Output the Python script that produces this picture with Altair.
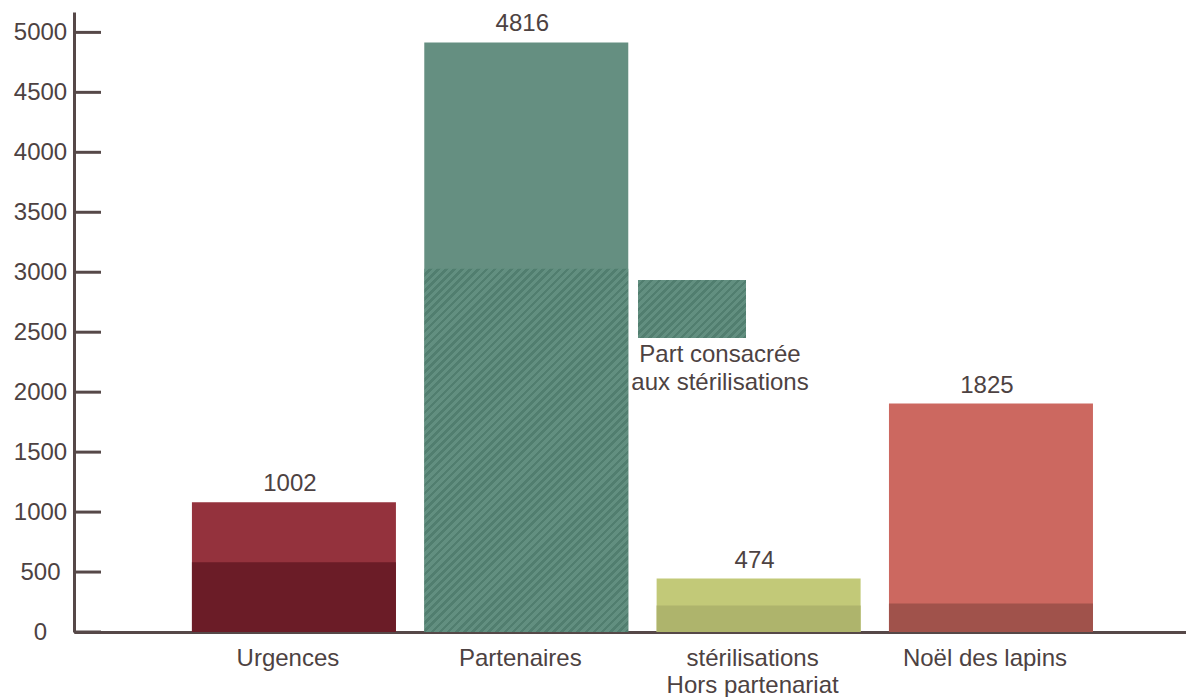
import altair as alt
import pandas as pd
import math

# ---- data ----
categories = ["Urgences", "Partenaires", "stérilisations Hors partenariat", "Noël des lapins"]
totals = [1082, 4916, 446, 1905]          # full bar heights (axis units)
parts = [582, 3030, 221, 238]             # darker / hatched lower part
value_labels = ["1002", "4816", "474", "1825"]
y_ticks = [0, 500, 1000, 1500, 2000, 2500, 3000, 3500, 4000, 4500, 5000]
legend_lines = ["Part consacrée", "aux stérilisations"]
hatched_category = "Partenaires"

# ---- styles ----
top_colors = ["#94323d", "#658f81", "#c2c978", "#cc6860"]
bottom_colors = ["#6b1c27", "#658f81", "#aeb46c", "#a0524b"]
HATCH_A = "#628f80"
HATCH_B = "#517e6f"
AXIS_COLOR = "#564848"
TEXT_COLOR = "#4d4242"
FONT = "Liberation Sans"
FS = 24
W, H = 1112, 620
Y_MAX = 5170


def hatch(w, h, period=5.7, dark=0.45):
    k = (w + h) / (w * w + h * h)
    n = max(1, int(round((w + h) / math.sqrt(2) / period)))
    stops = []
    for i in range(n):
        t0, tm, t1 = i / n, (i + 1 - dark) / n, (i + 1) / n
        stops += [
            {"offset": t0, "color": HATCH_A},
            {"offset": tm, "color": HATCH_A},
            {"offset": tm, "color": HATCH_B},
            {"offset": t1, "color": HATCH_B},
        ]
    return {"gradient": "linear", "x1": 0, "y1": 0, "x2": k * w, "y2": k * h, "stops": stops}


df = pd.DataFrame({"cat": categories, "total": totals, "part": parts, "label": value_labels})
base = alt.Chart(df)

x_axis = alt.Axis(
    title=None, domain=True, domainColor=AXIS_COLOR, domainWidth=3,
    ticks=False, tickSize=0, grid=False, labelAngle=0, labelPadding=14,
    labelFont=FONT, labelFontSize=FS, labelColor=TEXT_COLOR, labelLineHeight=27,
    labelLimit=400, labelOverlap=False, labelOffset=-6,
    labelExpr="datum.label == 'stérilisations Hors partenariat' ? ['stérilisations', 'Hors partenariat'] : datum.label",
)
y_axis = alt.Axis(
    title=None, values=y_ticks, format="d", domain=True, domainColor=AXIS_COLOR, domainWidth=3,
    ticks=False, tickSize=0, grid=False, labelAlign="center", labelBaseline="middle",
    labelPadding=34, labelFont=FONT, labelFontSize=FS, labelColor=TEXT_COLOR,
)
x_scale = alt.Scale(domain=categories, paddingInner=0.122, paddingOuter=0.454, align=0.559)
y_scale = alt.Scale(domain=[0, Y_MAX], nice=False, zero=True)


def X():
    return alt.X("cat:N", sort=categories, scale=x_scale, axis=x_axis)


def Y(field):
    return alt.Y(field + ":Q", scale=y_scale, axis=y_axis)


bars_top = base.mark_bar().encode(
    x=X(), y=Y("total"),
    color=alt.Color("cat:N", scale=alt.Scale(domain=categories, range=top_colors), legend=None),
)
bars_bottom = base.transform_filter(alt.datum.cat != hatched_category).mark_bar().encode(
    x=X(), y=Y("part"),
    color=alt.Color("cat:N", scale=alt.Scale(domain=categories, range=bottom_colors), legend=None),
)
hatched_part = parts[categories.index(hatched_category)]
bars_hatch = base.transform_filter(alt.datum.cat == hatched_category).mark_bar(
    fill=hatch(204, hatched_part / Y_MAX * H)
).encode(x=X(), y=Y("part"))

value_text = base.mark_text(
    baseline="alphabetic", dy=-11, dx=-4, font=FONT, fontSize=FS, color=TEXT_COLOR
).encode(x=X(), y=Y("total"), text="label:N")

ticks = alt.Chart(pd.DataFrame({"t": y_ticks})).mark_rule(color=AXIS_COLOR, strokeWidth=3).encode(
    y=Y("t"), x=alt.value(0), x2=alt.value(27)
)

one = pd.DataFrame({"k": [0]})
legend_swatch = alt.Chart(one).mark_rect(fill=hatch(108, 58)).encode(
    x=alt.value(564), x2=alt.value(672), y=alt.value(268), y2=alt.value(326)
)
legend_label = alt.Chart(one).mark_text(
    align="center", baseline="alphabetic", lineHeight=28, font=FONT, fontSize=FS, color=TEXT_COLOR
).encode(x=alt.value(646), y=alt.value(350), text=alt.value(legend_lines))

chart = (
    alt.layer(bars_top, bars_bottom, bars_hatch, value_text, ticks, legend_swatch, legend_label)
    .resolve_scale(color="independent")
    .properties(
        width=W, height=H,
        autosize=alt.AutoSizeParams(type="none"),
        padding={"left": 66, "top": 4, "right": 0, "bottom": 65},
    )
    .configure_view(stroke=None)
)

chart.save("out.html", embed_options={"renderer": "svg", "actions": False})
